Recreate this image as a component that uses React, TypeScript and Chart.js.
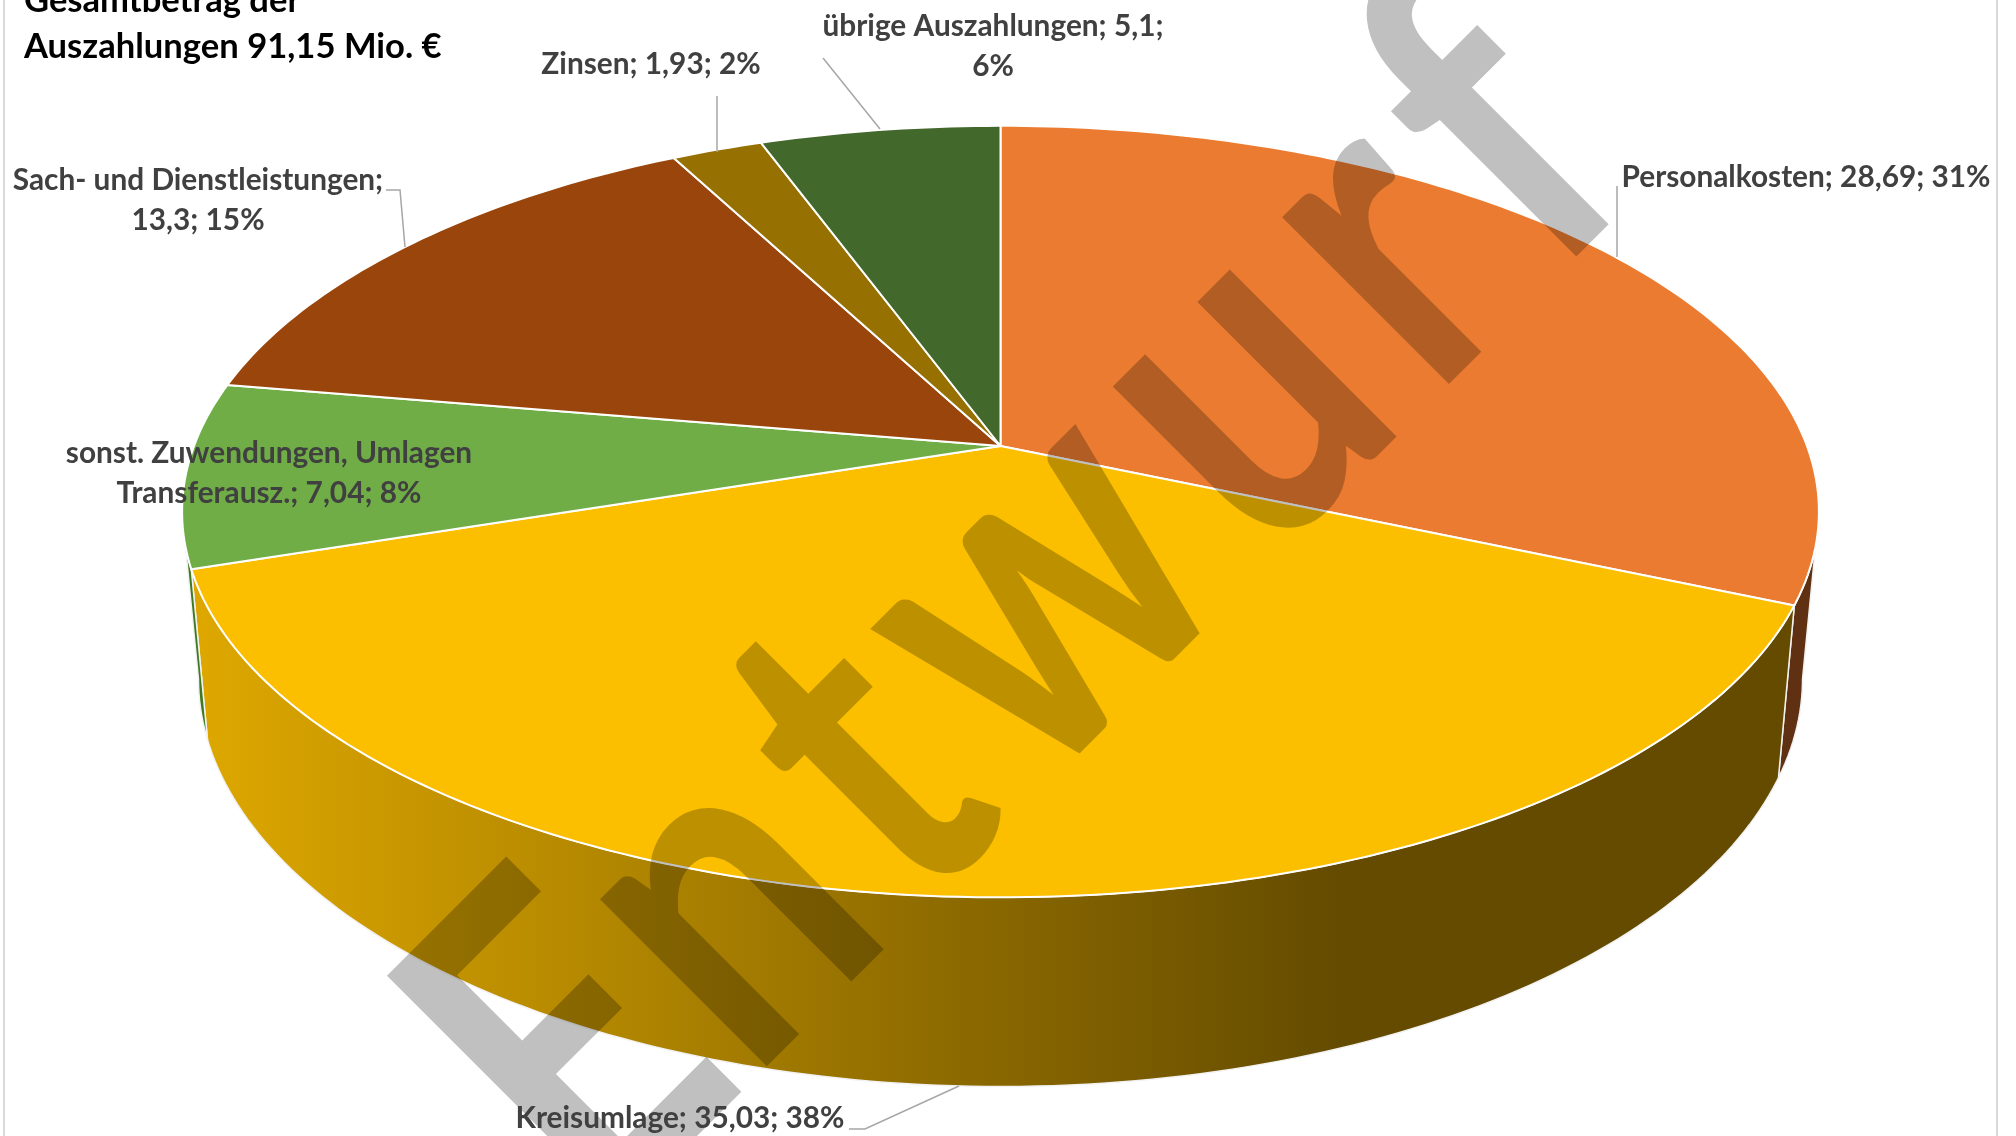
import React, { useEffect, useRef } from "react";
import { Chart, registerables } from "chart.js";

Chart.register(...registerables);

const categories = ["Personalkosten", "Kreisumlage", "sonst. Zuwendungen, Umlagen Transferausz.", "Sach- und Dienstleistungen", "Zinsen", "übrige Auszahlungen"];
const values = [28.69, 35.03, 7.04, 13.3, 1.93, 5.1];
const sliceColors = ["#EB7B30", "#FBBF00", "#70AD47", "#9A450C", "#967000", "#43682B"];
const wallColors = ["#5F3112", "#644B00", "#3F7A22", "#5F3112", "#5F4700", "#2A421B"];
const titleLines = ["Gesamtbetrag der", "Auszahlungen 91,15 Mio. €"];
const labelLines = [
  ["Personalkosten; 28,69; 31%"],
  ["Kreisumlage; 35,03; 38%"],
  ["sonst. Zuwendungen, Umlagen", "Transferausz.; 7,04; 8%"],
  ["Sach- und Dienstleistungen;", "13,3; 15%"],
  ["Zinsen; 1,93; 2%"],
  ["übrige Auszahlungen; 5,1;", "6%"],
];
const watermark = "Entwurf";

const labelCenters = [
  [1806, 177],
  [680, 1118],
  [269, 453],
  [198, 180],
  [651, 64],
  [993, 26],
];
const leaders = [
  [[1617, 186], [1617, 257]],
  [[849, 1129], [865, 1129], [959, 1086]],
  [],
  [[386, 190], [400, 190], [405, 247]],
  [[717, 96], [717, 152]],
  [[823, 58], [880, 129]],
];

const P = { x0: 1000.5, y0: 446, a: 806.5, b: 374.6, k: -0.17, sx: 0.98, y1: 609.4, b1: 396 };
const top = (t: number) => {
  const u = Math.cos(t), v = Math.sin(t), d = 1 + P.k * v;
  return [P.x0 + (P.a * u) / d, P.y0 + (P.b * v) / d];
};
const bottom = (t: number) => {
  const u = Math.cos(t), v = Math.sin(t), d = 1 + P.k * v;
  return [P.x0 + (P.sx * P.a * u) / d, P.y1 + (P.b1 * v) / d];
};
const SIL = Math.asin(-P.k);

const pie3d = {
  id: "pie3d",
  beforeDatasetsDraw(chart: any) {
    const ctx = chart.ctx;
    const arcs = chart.getDatasetMeta(0).data;
    const step = Math.PI / 180;
    ctx.save();
    ctx.lineJoin = "round";
    // side walls
    arcs.forEach((arc: any, i: number) => {
      const s = Math.max(arc.startAngle, SIL);
      const e = Math.min(arc.endAngle, Math.PI - SIL);
      if (e <= s) return;
      ctx.beginPath();
      for (let t = s; t < e; t += step) { const p = top(t); ctx.lineTo(p[0], p[1]); }
      let p = top(e); ctx.lineTo(p[0], p[1]);
      p = bottom(e); ctx.lineTo(p[0], p[1]);
      for (let t = e; t > s; t -= step) { const q = bottom(t); ctx.lineTo(q[0], q[1]); }
      p = bottom(s); ctx.lineTo(p[0], p[1]);
      ctx.closePath();
      if (i === 1) {
        const g = ctx.createLinearGradient(205, 0, 1340, 0);
        g.addColorStop(0, "#DDA700");
        g.addColorStop(1, wallColors[1]);
        ctx.fillStyle = g;
      } else ctx.fillStyle = wallColors[i];
      ctx.fill();
      ctx.strokeStyle = "#f2f2f2";
      ctx.lineWidth = 1.5;
      ctx.stroke();
    });
    // top face
    arcs.forEach((arc: any, i: number) => {
      ctx.beginPath();
      ctx.moveTo(P.x0, P.y0);
      for (let t = arc.startAngle; t < arc.endAngle; t += step) { const p = top(t); ctx.lineTo(p[0], p[1]); }
      const p = top(arc.endAngle); ctx.lineTo(p[0], p[1]);
      ctx.closePath();
      ctx.fillStyle = sliceColors[i];
      ctx.fill();
      ctx.strokeStyle = "#ffffff";
      ctx.lineWidth = 2;
      ctx.stroke();
    });
    ctx.restore();
    return false;
  },
  afterDraw(chart: any) {
    const ctx = chart.ctx;
    ctx.save();
    // frame
    ctx.strokeStyle = "#d9d9d9";
    ctx.lineWidth = 2;
    ctx.beginPath();
    ctx.moveTo(4, 0); ctx.lineTo(4, 1136);
    ctx.moveTo(1997, 0); ctx.lineTo(1997, 1136);
    ctx.stroke();
    // watermark
    ctx.save();
    ctx.globalCompositeOperation = "multiply";
    ctx.fillStyle = "#c0c0c0";
    ctx.translate(580, 1253);
    ctx.rotate(-Math.PI / 4);
    ctx.scale(0.804, 1);
    ctx.font = "bold 460px Lato";
    (ctx as any).letterSpacing = "36px";
    ctx.textAlign = "left";
    ctx.textBaseline = "alphabetic";
    const first = watermark.slice(0, 1);
    const firstWidth = ctx.measureText(first).width;
    ctx.fillText(first, 37, 0);
    ctx.fillText(watermark.slice(1), firstWidth, 0);
    (ctx as any).letterSpacing = "0px";
    ctx.restore();
    // leaders
    ctx.strokeStyle = "#a6a6a6";
    ctx.lineWidth = 1.5;
    leaders.forEach((pts) => {
      if (!pts.length) return;
      ctx.beginPath();
      pts.forEach((p) => ctx.lineTo(p[0], p[1]));
      ctx.stroke();
    });
    // labels
    ctx.fillStyle = "#404040";
    ctx.font = "bold 29.8px Lato";
    ctx.textAlign = "center";
    ctx.textBaseline = "middle";
    labelLines.forEach((lines, i) => {
      lines.forEach((l, j) => ctx.fillText(l, labelCenters[i][0], labelCenters[i][1] + j * 40));
    });
    // title
    ctx.fillStyle = "#000000";
    ctx.font = "bold 34.6px Lato";
    ctx.textAlign = "left";
    ctx.textBaseline = "alphabetic";
    titleLines.forEach((l, j) => ctx.fillText(l, 24, 12 + j * 46));
    ctx.restore();
  },
};

export default function App() {
  const ref = useRef<HTMLCanvasElement>(null);
  useEffect(() => {
    const chart = new Chart(ref.current as HTMLCanvasElement, {
      type: "pie",
      data: {
        labels: categories,
        datasets: [{ data: values, backgroundColor: sliceColors, borderColor: "#ffffff" }],
      },
      options: {
        animation: false,
        responsive: false,
        plugins: { legend: { display: false }, tooltip: { enabled: false } },
      },
      plugins: [pie3d],
    } as any);
    return () => chart.destroy();
  }, []);
  return (
    <canvas
      ref={ref}
      width={2016}
      height={1136}
      style={{ position: "absolute", left: 0, top: 0, width: 2016, height: 1136, display: "block", background: "#fff" }}
    />
  );
}
